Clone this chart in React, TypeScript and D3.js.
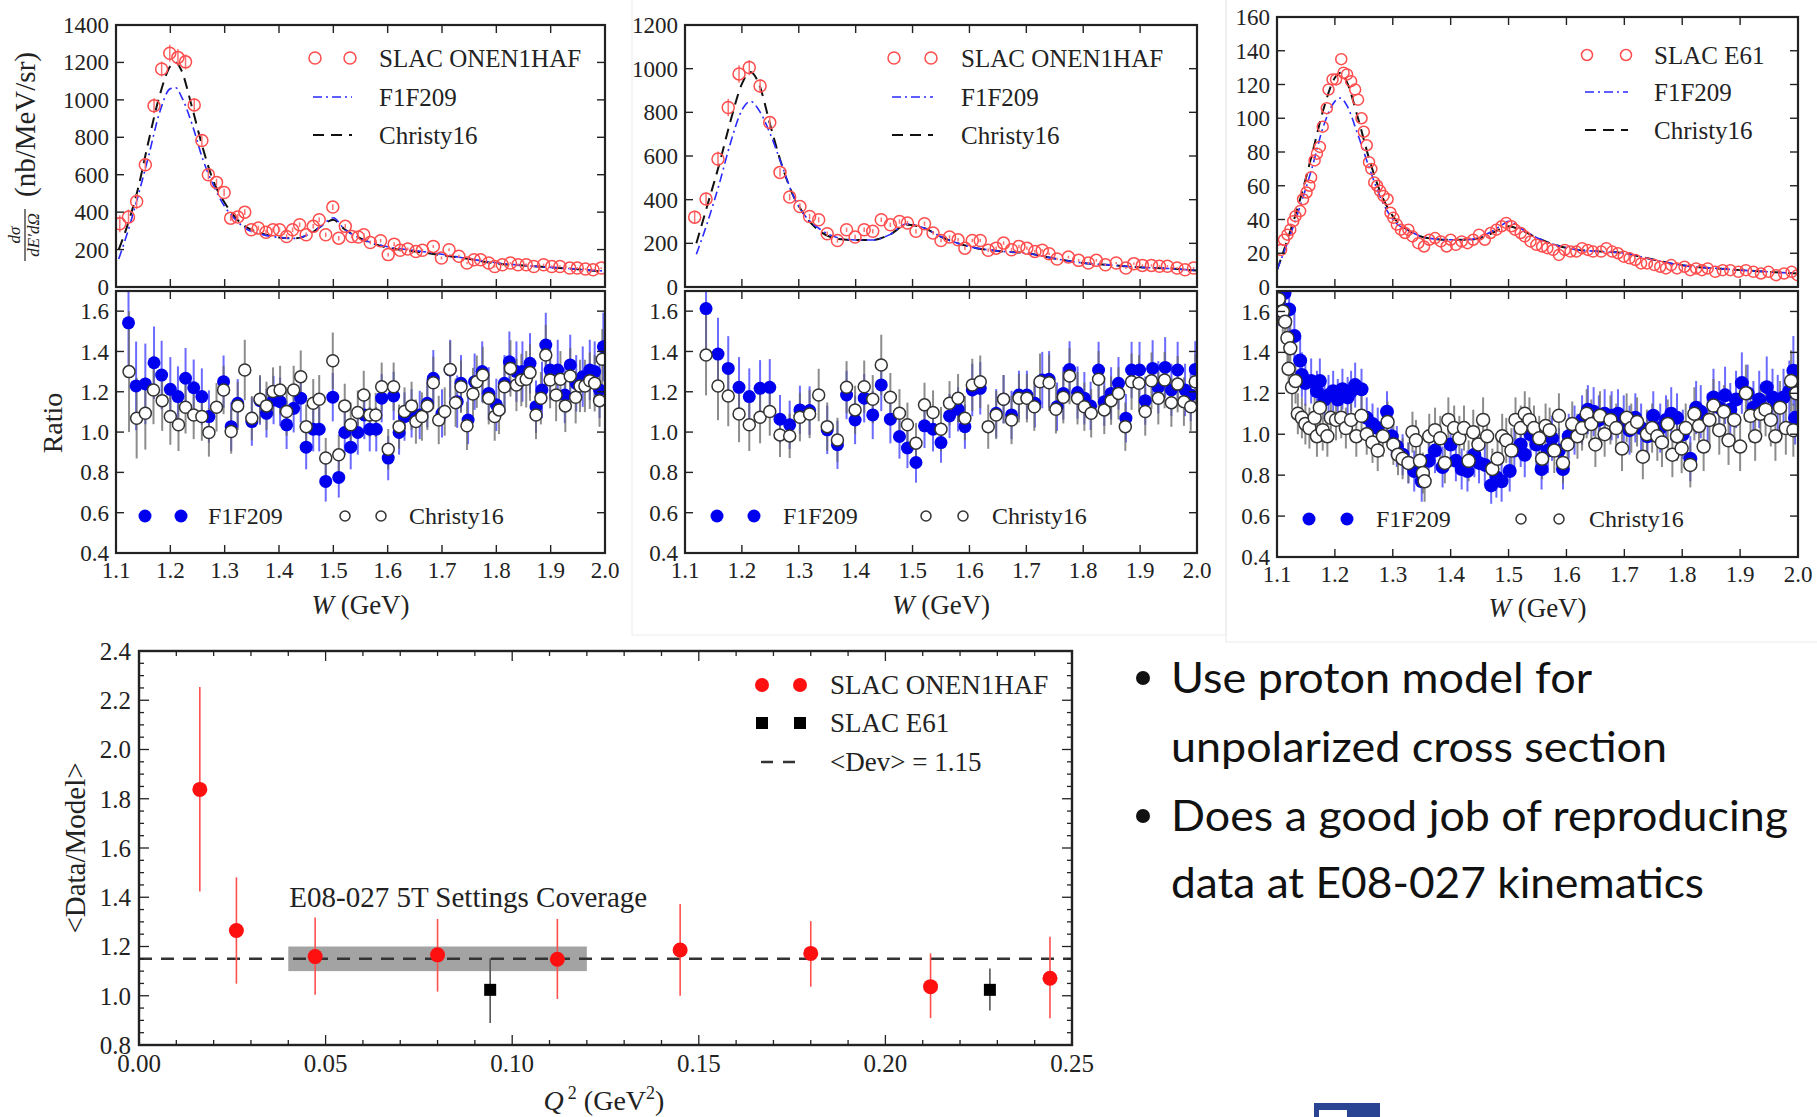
import React from "react";
import * as d3 from "d3";

const SERIF = "'Liberation Serif', 'Times New Roman', serif";
const SANS = "Lato, 'Open Sans', sans-serif";

// ---------------- Panel A : SLAC ONEN1HAF (first kinematics) ----------------
const A_DATA = [
  [1.107,338,45],[1.123,374,40],[1.138,457,40],[1.154,653,35],[1.170,968,40],[1.184,1165,40],[1.199,1249,45],[1.214,1227,45],[1.228,1203,40],[1.244,973,35],[1.258,783,30],[1.270,600,25],[1.285,559,20],[1.299,505,20],[1.311,368,15],[1.324,374,15],[1.337,400,15],[1.349,306,12],[1.362,315,12],[1.376,293,12],[1.389,306,12],[1.401,306,12],[1.414,270,12],[1.425,306,12],[1.438,333,12],[1.450,279,12],[1.463,324,12],[1.474,359,12],[1.486,279,12],[1.499,427,15],[1.510,261,12],[1.522,324,12],[1.534,270,10],[1.546,267,10],[1.556,279,10],[1.568,238,10],[1.587,247,10],[1.601,173,10],[1.612,229,10],[1.623,196,8],[1.637,203,8],[1.652,190,8],[1.664,196,8],[1.684,217,8],[1.699,155,8],[1.713,199,8],[1.731,164,8],[1.746,128,6],[1.759,146,6],[1.771,146,6],[1.786,128,6],[1.797,110,6],[1.811,119,6],[1.826,128,6],[1.840,119,6],[1.855,119,6],[1.869,110,6],[1.887,119,6],[1.902,110,6],[1.917,110,6],[1.935,101,5],[1.949,101,5],[1.964,96,5],[1.978,92,5],[1.993,101,5]
];
const A_MODEL_W = [1.105,1.12,1.14,1.16,1.18,1.20,1.21,1.22,1.24,1.26,1.28,1.30,1.32,1.34,1.37,1.40,1.43,1.46,1.48,1.50,1.52,1.55,1.60,1.65,1.70,1.75,1.80,1.85,1.90,1.95,2.0];
const A_CHRISTY = [200,320,520,780,1020,1180,1200,1160,960,740,560,450,370,320,285,265,260,290,330,360,310,260,210,190,170,150,125,115,105,95,80];
const A_F1F209 = [150,280,480,700,930,1060,1065,1020,870,680,540,430,360,310,280,265,260,290,330,370,310,260,215,195,175,150,130,115,105,95,85];
const A_RATIO_F1F209 = [
  [1.123,1.542,0.25],[1.137,1.229,0.22],[1.154,1.239,0.2],[1.170,1.344,0.18],[1.184,1.283,0.17],[1.200,1.212,0.16],[1.214,1.176,0.15],[1.228,1.267,0.15],[1.243,1.220,0.14],[1.258,1.176,0.14],[1.271,1.077,0.13],[1.298,1.250,0.13],[1.312,1.027,0.12],[1.324,1.143,0.12],[1.350,1.052,0.12],[1.365,1.156,0.12],[1.377,1.093,0.12],[1.390,1.159,0.12],[1.402,1.151,0.12],[1.414,1.036,0.12],[1.427,1.118,0.12],[1.440,1.168,0.12],[1.450,0.925,0.11],[1.463,1.014,0.11],[1.474,1.014,0.11],[1.486,0.755,0.1],[1.499,1.173,0.12],[1.510,0.775,0.1],[1.521,0.998,0.11],[1.532,0.925,0.11],[1.545,0.998,0.11],[1.557,1.085,0.12],[1.567,1.014,0.11],[1.579,1.014,0.11],[1.589,1.168,0.12],[1.601,0.871,0.11],[1.611,1.179,0.12],[1.621,0.998,0.11],[1.631,1.077,0.12],[1.644,1.093,0.12],[1.659,1.085,0.12],[1.673,1.143,0.12],[1.684,1.267,0.14],[1.700,1.093,0.12],[1.715,1.308,0.15],[1.728,1.151,0.13],[1.735,1.242,0.14],[1.748,1.060,0.12],[1.760,1.250,0.14],[1.774,1.300,0.15],[1.786,1.192,0.13],[1.800,1.135,0.13],[1.815,1.242,0.14],[1.824,1.349,0.15],[1.837,1.300,0.15],[1.848,1.300,0.15],[1.862,1.341,0.15],[1.873,1.126,0.13],[1.884,1.209,0.14],[1.891,1.432,0.16],[1.899,1.308,0.15],[1.913,1.308,0.15],[1.926,1.184,0.14],[1.936,1.333,0.15],[1.947,1.242,0.14],[1.959,1.275,0.15],[1.972,1.308,0.15],[1.981,1.300,0.15],[1.990,1.209,0.14],[1.997,1.423,0.17]
];
const A_RATIO_CHRISTY = [
  [1.124,1.300,0.3],[1.138,1.069,0.2],[1.154,1.093,0.18],[1.169,1.209,0.17],[1.185,1.156,0.15],[1.200,1.077,0.14],[1.215,1.036,0.13],[1.228,1.123,0.13],[1.243,1.085,0.12],[1.258,1.077,0.12],[1.271,0.998,0.12],[1.285,1.123,0.12],[1.298,1.209,0.12],[1.312,1.003,0.11],[1.324,1.130,0.12],[1.337,1.308,0.15],[1.350,1.069,0.11],[1.365,1.163,0.12],[1.377,1.130,0.12],[1.389,1.201,0.12],[1.402,1.209,0.12],[1.414,1.102,0.12],[1.427,1.209,0.12],[1.440,1.275,0.13],[1.450,1.027,0.11],[1.463,1.143,0.12],[1.474,1.163,0.12],[1.486,0.871,0.1],[1.499,1.354,0.14],[1.510,0.887,0.1],[1.521,1.130,0.11],[1.532,1.036,0.11],[1.545,1.097,0.11],[1.556,1.184,0.12],[1.567,1.085,0.11],[1.578,1.085,0.11],[1.589,1.225,0.12],[1.601,0.915,0.1],[1.611,1.225,0.12],[1.621,1.027,0.11],[1.631,1.102,0.12],[1.644,1.130,0.12],[1.652,1.052,0.11],[1.663,1.077,0.12],[1.673,1.130,0.12],[1.684,1.245,0.13],[1.694,1.060,0.12],[1.705,1.102,0.12],[1.715,1.311,0.14],[1.725,1.146,0.12],[1.735,1.225,0.13],[1.746,1.031,0.12],[1.757,1.189,0.13],[1.764,1.250,0.13],[1.775,1.283,0.14],[1.786,1.168,0.13],[1.797,1.077,0.12],[1.805,1.110,0.12],[1.815,1.225,0.13],[1.826,1.316,0.14],[1.837,1.234,0.13],[1.846,1.258,0.13],[1.855,1.262,0.14],[1.862,1.295,0.14],[1.873,1.085,0.12],[1.882,1.168,0.13],[1.891,1.382,0.15],[1.899,1.258,0.14],[1.910,1.184,0.13],[1.918,1.262,0.14],[1.927,1.130,0.13],[1.936,1.278,0.14],[1.946,1.173,0.13],[1.954,1.229,0.13],[1.963,1.229,0.13],[1.972,1.255,0.14],[1.981,1.242,0.14],[1.990,1.156,0.13],[1.995,1.361,0.15]
];

// ---------------- Panel B : SLAC ONEN1HAF (second kinematics) ----------------
const B_DATA = [
  [1.117,320,30],[1.137,403,30],[1.158,586,35],[1.176,822,40],[1.195,976,40],[1.213,1005,35],[1.232,921,30],[1.249,753,25],[1.267,525,20],[1.284,412,15],[1.302,369,15],[1.319,323,12],[1.335,308,12],[1.350,244,10],[1.368,213,10],[1.384,262,10],[1.399,229,10],[1.415,262,10],[1.430,255,10],[1.445,308,10],[1.461,285,10],[1.477,300,10],[1.491,293,10],[1.506,255,10],[1.521,290,10],[1.536,247,8],[1.550,213,8],[1.565,229,8],[1.580,216,8],[1.592,178,8],[1.605,213,8],[1.619,213,8],[1.633,168,8],[1.647,178,8],[1.660,201,8],[1.674,171,8],[1.687,186,8],[1.701,178,8],[1.715,163,6],[1.728,168,6],[1.740,152,6],[1.754,128,6],[1.774,137,6],[1.792,122,6],[1.809,110,6],[1.823,122,6],[1.839,102,5],[1.858,110,5],[1.875,87,5],[1.889,107,5],[1.904,99,5],[1.920,99,5],[1.934,95,5],[1.948,95,5],[1.965,87,5],[1.979,79,5],[1.994,87,5]
];
const B_MODEL_W = [1.12,1.14,1.16,1.18,1.20,1.215,1.23,1.25,1.27,1.29,1.31,1.34,1.37,1.40,1.43,1.46,1.49,1.52,1.55,1.60,1.65,1.70,1.75,1.80,1.85,1.90,1.95,2.0];
const B_CHRISTY = [200,380,560,760,930,985,930,740,560,420,330,250,220,215,215,240,285,270,230,185,165,155,130,110,100,90,85,75];
const B_F1F209 = [150,300,470,660,810,850,810,700,560,420,330,260,225,215,215,240,290,270,230,185,165,155,130,110,100,90,85,75];
const B_RATIO_F1F209 = [
  [1.137,1.613,0.2],[1.158,1.387,0.18],[1.176,1.316,0.16],[1.195,1.222,0.15],[1.213,1.176,0.14],[1.232,1.217,0.14],[1.249,1.222,0.14],[1.267,1.064,0.12],[1.284,1.036,0.12],[1.302,1.110,0.12],[1.319,1.107,0.12],[1.350,1.011,0.12],[1.368,0.937,0.12],[1.384,1.184,0.12],[1.399,1.060,0.12],[1.415,1.168,0.12],[1.430,1.085,0.12],[1.445,1.234,0.13],[1.461,1.064,0.12],[1.477,0.978,0.11],[1.491,0.921,0.1],[1.506,0.849,0.1],[1.521,1.031,0.11],[1.536,1.014,0.11],[1.550,0.948,0.1],[1.565,1.080,0.11],[1.580,1.113,0.11],[1.592,1.027,0.11],[1.605,1.209,0.13],[1.619,1.217,0.13],[1.647,1.093,0.12],[1.660,1.163,0.12],[1.674,1.085,0.12],[1.687,1.184,0.12],[1.701,1.184,0.12],[1.715,1.143,0.12],[1.728,1.258,0.14],[1.740,1.262,0.14],[1.754,1.126,0.12],[1.765,1.192,0.13],[1.776,1.311,0.14],[1.790,1.196,0.13],[1.802,1.168,0.13],[1.813,1.130,0.12],[1.827,1.308,0.14],[1.837,1.151,0.12],[1.849,1.192,0.13],[1.862,1.242,0.13],[1.875,1.069,0.12],[1.885,1.308,0.14],[1.899,1.308,0.14],[1.909,1.156,0.12],[1.922,1.316,0.14],[1.932,1.222,0.13],[1.944,1.321,0.15],[1.955,1.209,0.13],[1.966,1.308,0.14],[1.979,1.209,0.13],[1.989,1.184,0.13],[1.997,1.311,0.14]
];
const B_RATIO_CHRISTY = [
  [1.137,1.382,0.2],[1.158,1.229,0.17],[1.176,1.179,0.15],[1.195,1.090,0.14],[1.213,1.036,0.13],[1.232,1.074,0.13],[1.249,1.102,0.12],[1.267,0.986,0.11],[1.284,0.981,0.11],[1.302,1.074,0.12],[1.319,1.090,0.12],[1.335,1.184,0.13],[1.350,1.027,0.12],[1.368,0.961,0.11],[1.384,1.222,0.13],[1.399,1.110,0.12],[1.415,1.225,0.13],[1.430,1.163,0.12],[1.445,1.333,0.15],[1.461,1.173,0.12],[1.477,1.093,0.12],[1.491,1.036,0.11],[1.506,0.945,0.1],[1.521,1.135,0.11],[1.536,1.097,0.11],[1.550,1.014,0.11],[1.565,1.143,0.11],[1.580,1.168,0.12],[1.592,1.069,0.11],[1.605,1.234,0.13],[1.619,1.250,0.13],[1.633,1.027,0.11],[1.647,1.085,0.12],[1.660,1.163,0.12],[1.674,1.060,0.12],[1.687,1.168,0.12],[1.701,1.168,0.12],[1.714,1.126,0.12],[1.724,1.250,0.14],[1.740,1.245,0.14],[1.752,1.113,0.12],[1.765,1.173,0.13],[1.776,1.278,0.14],[1.790,1.168,0.13],[1.802,1.126,0.12],[1.814,1.093,0.12],[1.827,1.262,0.14],[1.837,1.110,0.12],[1.849,1.156,0.12],[1.862,1.192,0.13],[1.874,1.027,0.12],[1.885,1.250,0.14],[1.898,1.242,0.14],[1.909,1.102,0.12],[1.920,1.255,0.14],[1.932,1.168,0.13],[1.943,1.258,0.14],[1.955,1.146,0.12],[1.966,1.238,0.14],[1.977,1.151,0.12],[1.989,1.126,0.12],[1.997,1.250,0.14]
];

// ---------------- Panel C : SLAC E61 ----------------
const C_DATA = [
  [1.107,22,0],[1.112,28,0],[1.118,31,0],[1.123,34,0],[1.128,39,0],[1.132,42,0],[1.140,45,0],[1.145,52,0],[1.151,56,0],[1.156,60,0],[1.159,65,0],[1.165,75,0],[1.169,79,0],[1.174,83,0],[1.179,95,0],[1.186,106,0],[1.189,117,0],[1.196,123,0],[1.202,123,0],[1.211,135,0],[1.215,127,0],[1.221,126,0],[1.228,122,0],[1.235,117,0],[1.240,111,0],[1.246,100,0],[1.250,92,0],[1.255,84,0],[1.259,74,0],[1.263,70,0],[1.268,62,0],[1.273,60,0],[1.278,57,0],[1.284,54,0],[1.291,52,0],[1.296,44,0],[1.301,41,0],[1.307,37,0],[1.314,34,0],[1.321,32,0],[1.327,34,0],[1.334,30,0],[1.344,26,0],[1.354,24,0],[1.363,28,0],[1.373,29,0],[1.383,27,0],[1.393,24,0],[1.400,28,0],[1.409,25,0],[1.419,27,0],[1.429,26,0],[1.439,28,0],[1.449,31,0],[1.459,28,0],[1.469,32,0],[1.479,34,0],[1.488,36,0],[1.496,38,0],[1.505,36,0],[1.511,34,0],[1.521,32,0],[1.528,30,0],[1.538,27,0],[1.548,25,0],[1.558,24,0],[1.567,23,0],[1.577,22,0],[1.587,19,0],[1.597,22,0],[1.607,21,0],[1.617,21,0],[1.627,23,0],[1.637,22,0],[1.646,21,0],[1.660,21,0],[1.669,23,0],[1.679,21,0],[1.689,20,0],[1.699,18,0],[1.709,17,0],[1.719,16,0],[1.729,14,0],[1.739,14,0],[1.752,13,0],[1.762,12,0],[1.772,11,0],[1.781,13,0],[1.791,11,0],[1.804,12,0],[1.814,10,0],[1.824,11,0],[1.834,10,0],[1.844,11,0],[1.857,9,0],[1.870,10,0],[1.883,10,0],[1.897,9,0],[1.910,10,0],[1.923,9,0],[1.936,8,0],[1.949,9,0],[1.962,7,0],[1.976,8,0],[1.989,9,0],[1.999,7,0]
];
const C_MODEL_W = [1.10,1.12,1.14,1.16,1.18,1.20,1.21,1.22,1.24,1.26,1.28,1.30,1.33,1.36,1.40,1.43,1.46,1.49,1.50,1.52,1.55,1.58,1.62,1.66,1.70,1.74,1.78,1.82,1.86,1.90,1.95,2.0];
const C_CHRISTY = [10,30,52,78,105,124,127,122,100,75,55,42,33,29,28,28,30,35,36,34,29,25,22,21,20,17,14,12,11,10,9,8];
const C_F1F209 = [10,28,48,70,95,110,112,108,90,70,52,40,33,29,28,28,31,37,39,35,29,25,22,21,20,17,14,12,11,10,9,8];
const C_RATIO_F1F209 = [
  [1.103,1.65,0.12],[1.113,1.69,0.12],[1.121,1.61,0.12],[1.130,1.48,0.12],[1.140,1.36,0.12],[1.143,1.29,0.11],[1.149,1.25,0.11],[1.159,1.26,0.11],[1.169,1.21,0.1],[1.174,1.26,0.11],[1.182,1.17,0.1],[1.189,1.19,0.1],[1.197,1.21,0.1],[1.205,1.17,0.1],[1.213,1.22,0.1],[1.222,1.18,0.1],[1.228,1.21,0.1],[1.235,1.24,0.11],[1.246,1.22,0.1],[1.255,1.08,0.1],[1.265,1.05,0.1],[1.274,1.03,0.1],[1.290,1.11,0.1],[1.298,0.99,0.1],[1.307,0.94,0.1],[1.317,0.90,0.1],[1.327,0.86,0.1],[1.337,0.82,0.1],[1.350,0.77,0.1],[1.362,0.87,0.1],[1.373,0.92,0.11],[1.386,0.84,0.1],[1.400,0.95,0.11],[1.409,0.87,0.1],[1.419,0.83,0.1],[1.429,0.82,0.1],[1.441,0.90,0.11],[1.449,0.86,0.1],[1.459,0.85,0.1],[1.470,0.75,0.09],[1.479,0.79,0.1],[1.488,0.77,0.1],[1.502,0.82,0.1],[1.510,0.92,0.11],[1.521,0.95,0.11],[1.528,0.90,0.11],[1.538,1.00,0.11],[1.548,0.95,0.11],[1.557,0.83,0.1],[1.568,0.92,0.11],[1.575,0.98,0.11],[1.587,0.92,0.11],[1.594,0.83,0.1],[1.604,0.99,0.11],[1.614,1.02,0.12],[1.627,1.07,0.12],[1.637,1.12,0.12],[1.647,1.11,0.12],[1.656,1.07,0.12],[1.666,1.10,0.12],[1.678,1.09,0.12],[1.689,1.10,0.12],[1.699,1.07,0.12],[1.709,1.02,0.12],[1.719,1.08,0.12],[1.729,1.03,0.12],[1.740,0.99,0.12],[1.750,1.09,0.12],[1.762,1.03,0.12],[1.772,1.07,0.12],[1.781,1.10,0.13],[1.791,1.08,0.12],[1.801,1.00,0.12],[1.814,0.88,0.11],[1.824,1.13,0.13],[1.832,1.11,0.13],[1.844,1.07,0.13],[1.854,1.18,0.14],[1.864,1.13,0.13],[1.874,1.19,0.14],[1.883,1.12,0.13],[1.893,1.17,0.14],[1.903,1.25,0.15],[1.913,1.20,0.14],[1.923,1.13,0.13],[1.933,1.17,0.14],[1.946,1.23,0.15],[1.956,1.18,0.14],[1.965,1.15,0.14],[1.975,1.18,0.14],[1.985,1.21,0.15],[1.992,1.31,0.17],[1.995,1.08,0.13]
];
const C_RATIO_CHRISTY = [
  [1.103,1.66,0.12],[1.110,1.60,0.12],[1.114,1.55,0.12],[1.118,1.47,0.12],[1.123,1.42,0.12],[1.120,1.32,0.12],[1.126,1.23,0.11],[1.132,1.26,0.11],[1.136,1.10,0.1],[1.143,1.08,0.1],[1.149,1.05,0.1],[1.156,1.03,0.1],[1.165,1.08,0.1],[1.169,0.99,0.1],[1.174,1.13,0.1],[1.179,1.02,0.1],[1.187,0.99,0.1],[1.193,1.08,0.1],[1.202,1.07,0.1],[1.211,1.08,0.1],[1.219,1.03,0.1],[1.228,1.07,0.1],[1.237,0.99,0.1],[1.246,1.09,0.1],[1.255,1.00,0.1],[1.265,0.96,0.1],[1.274,0.92,0.1],[1.283,0.99,0.1],[1.291,1.06,0.1],[1.301,0.95,0.1],[1.309,0.90,0.1],[1.317,0.88,0.1],[1.327,0.86,0.1],[1.334,1.01,0.1],[1.340,0.97,0.1],[1.347,0.87,0.1],[1.352,0.81,0.1],[1.355,0.77,0.1],[1.363,0.99,0.11],[1.373,1.02,0.11],[1.382,0.98,0.11],[1.390,0.86,0.1],[1.396,1.07,0.11],[1.406,1.03,0.11],[1.415,0.98,0.11],[1.423,1.03,0.11],[1.431,0.87,0.1],[1.439,1.01,0.11],[1.448,0.95,0.11],[1.456,1.07,0.11],[1.463,0.99,0.11],[1.472,0.83,0.1],[1.481,0.88,0.1],[1.489,0.99,0.11],[1.496,0.97,0.11],[1.505,0.92,0.11],[1.512,1.07,0.11],[1.521,1.03,0.11],[1.528,1.10,0.11],[1.536,1.07,0.11],[1.544,1.03,0.11],[1.553,0.98,0.11],[1.558,0.88,0.1],[1.564,1.04,0.11],[1.571,1.02,0.11],[1.579,0.92,0.11],[1.587,1.09,0.11],[1.594,0.86,0.1],[1.602,0.95,0.11],[1.610,1.05,0.11],[1.619,0.99,0.11],[1.627,1.03,0.11],[1.635,1.10,0.12],[1.643,1.05,0.12],[1.650,0.95,0.11],[1.658,1.09,0.12],[1.666,1.00,0.11],[1.676,1.07,0.12],[1.686,1.03,0.12],[1.696,0.93,0.11],[1.704,1.08,0.12],[1.712,1.03,0.12],[1.722,1.06,0.12],[1.732,0.89,0.11],[1.739,1.00,0.12],[1.748,1.03,0.12],[1.757,0.99,0.12],[1.765,0.96,0.12],[1.775,1.05,0.12],[1.783,0.90,0.11],[1.791,0.99,0.12],[1.799,0.93,0.12],[1.806,1.03,0.12],[1.814,0.85,0.11],[1.821,1.10,0.13],[1.829,1.04,0.12],[1.837,0.94,0.12],[1.847,1.07,0.13],[1.854,1.14,0.13],[1.864,1.02,0.12],[1.872,1.11,0.13],[1.880,0.97,0.12],[1.890,1.07,0.13],[1.900,0.94,0.12],[1.910,1.20,0.14],[1.918,1.09,0.13],[1.926,0.99,0.12],[1.935,1.10,0.13],[1.944,1.12,0.13],[1.953,1.07,0.13],[1.961,0.99,0.12],[1.969,1.13,0.13],[1.979,1.03,0.13],[1.988,1.26,0.15],[1.992,1.02,0.13],[1.997,1.20,0.14]
];

// ---------------- Bottom: <Data/Model> vs Q^2 ----------------
// [Q2, value, low, high]
const Q2_ONEN1HAF = [
  [0.0163,1.838,1.423,2.254],[0.0261,1.265,1.049,1.481],[0.0472,1.159,1.004,1.318],[0.0800,1.166,1.017,1.312],[0.1121,1.148,0.987,1.312],[0.1450,1.186,1.0,1.373],[0.1800,1.172,1.037,1.303],[0.2121,1.037,0.909,1.172],[0.2441,1.071,0.909,1.24]
];
const Q2_E61 = [[0.0941,1.024,0.889,1.152],[0.2280,1.024,0.94,1.111]];
const DEV_MEAN = 1.15;
const COVERAGE_Q2 = [0.04, 0.12];
const COVERAGE_R = [1.10, 1.20];

// ---------------- ticks / labels ----------------
const W_TICKS = [1.1,1.2,1.3,1.4,1.5,1.6,1.7,1.8,1.9,2.0];
const RATIO_TICKS = [0.4,0.6,0.8,1.0,1.2,1.4,1.6];
const A_Y_TICKS = [0,200,400,600,800,1000,1200,1400];
const B_Y_TICKS = [0,200,400,600,800,1000,1200];
const C_Y_TICKS = [0,20,40,60,80,100,120,140,160];
const Q2_TICKS = [0,0.05,0.10,0.15,0.20,0.25];
const DM_TICKS = [0.8,1.0,1.2,1.4,1.6,1.8,2.0,2.2,2.4];
const BULLETS = [
  ["Use proton model for", "unpolarized cross section"],
  ["Does a good job of reproducing", "data at E08-027 kinematics"],
];

const RED = "#ff4d4d";
const BLUE = "#0000ee";
const TICK = 8;

type Layout = {
  id: string; xl: number; xr: number; top: number; zero: number; yMax: number;
  r04: number; r17: number; tickY: number; titleY: number;
  legCirc: number[]; legText: number; legRows: number[];
  rLegF: number[]; rLegFText: number; rLegC: number[]; rLegCText: number; rLegY: number;
  rData: number; rRatio: number; clipLeft?: number;
};

function Frame({ x0, x1, y0, y1, xt, yt, xs, ys }: any) {
  return (
    <g stroke="#222" strokeWidth={1.4}>
      {xt.map((t: number, i: number) => (
        <g key={"x" + i}>
          <line x1={xs(t)} x2={xs(t)} y1={y1} y2={y1 - TICK} />
          <line x1={xs(t)} x2={xs(t)} y1={y0} y2={y0 + TICK} />
        </g>
      ))}
      {yt.map((t: number, i: number) => (
        <g key={"y" + i}>
          <line x1={x0} x2={x0 + TICK} y1={ys(t)} y2={ys(t)} />
          <line x1={x1} x2={x1 - TICK} y1={ys(t)} y2={ys(t)} />
        </g>
      ))}
      <rect x={x0} y={y0} width={x1 - x0} height={y1 - y0} fill="none" strokeWidth={2.2} />
    </g>
  );
}

function Panel({ L, data, modelW, christy, f1, rF, rC, yTicks, dataLabel, showYTitles }: any) {
  const x = d3.scaleLinear().domain([1.1, 2.0]).range([L.xl, L.xr]);
  const yT = d3.scaleLinear().domain([0, L.yMax]).range([L.zero, L.top]);
  const yR = d3.scaleLinear().domain([0.4, 1.7]).range([L.r04, L.r17]);
  const line = (vals: number[]) =>
    d3.line<number>().x((_, i) => x(modelW[i])).y((d) => yT(d)).curve(d3.curveMonotoneX)(vals) || "";
  const rTop = L.zero + 4;
  const clipT = L.id + "t", clipR = L.id + "r", clipL = L.id + "l";
  const cx = (L.xl + L.xr) / 2;
  return (
    <g fontFamily={SERIF} fill="#222">
      <defs>
        <clipPath id={clipT}><rect x={L.xl} y={L.top} width={L.xr - L.xl} height={L.zero - L.top} /></clipPath>
        <clipPath id={clipR}><rect x={L.xl} y={rTop} width={L.xr - L.xl} height={L.r04 - rTop} /></clipPath>
        <clipPath id={clipL}><rect x={L.clipLeft ?? 0} y={0} width={2000} height={2000} /></clipPath>
      </defs>
      {/* ---------- top: cross sections ---------- */}
      <g clipPath={`url(#${clipT})`}>
        <path d={line(christy)} fill="none" stroke="#111" strokeWidth={2} strokeDasharray="11 7" />
        <path d={line(f1)} fill="none" stroke="#2a2aff" strokeWidth={1.6} strokeDasharray="9 4 2 4" />
        {data.map((d: number[], i: number) => (
          <g key={i}>
            {d[2] > 0 && <line x1={x(d[0])} x2={x(d[0])} y1={yT(d[1] - d[2])} y2={yT(d[1] + d[2])} stroke="#ff7070" strokeWidth={1.5} />}
            <circle cx={x(d[0])} cy={yT(d[1])} r={L.rData} fill="none" stroke={RED} strokeWidth={1.5} />
          </g>
        ))}
      </g>
      <Frame x0={L.xl} x1={L.xr} y0={L.top} y1={L.zero} xt={W_TICKS} yt={yTicks} xs={x} ys={yT} />
      <g clipPath={`url(#${clipL})`} fontSize={23} textAnchor="end">
        {yTicks.map((t: number) => (
          <text key={t} x={L.xl - 7} y={yT(t)} dy="0.35em">{t}</text>
        ))}
      </g>
      {/* legend top */}
      <g fontSize={25}>
        {L.legCirc.map((c: number, i: number) => (
          <circle key={i} cx={c} cy={L.legRows[0]} r={L.rData} fill="none" stroke={RED} strokeWidth={1.5} />
        ))}
        <text x={L.legText} y={L.legRows[0]} dy="0.35em">{dataLabel}</text>
        <line x1={L.legCirc[0] - 2} x2={L.legCirc[1] + 2} y1={L.legRows[1]} y2={L.legRows[1]} stroke="#2a2aff" strokeWidth={1.6} strokeDasharray="9 4 2 4" />
        <text x={L.legText} y={L.legRows[1]} dy="0.35em">F1F209</text>
        <line x1={L.legCirc[0] - 2} x2={L.legCirc[1] + 2} y1={L.legRows[2]} y2={L.legRows[2]} stroke="#111" strokeWidth={2} strokeDasharray="11 7" />
        <text x={L.legText} y={L.legRows[2]} dy="0.35em">Christy16</text>
      </g>
      {/* ---------- ratio ---------- */}
      <g clipPath={`url(#${clipR})`}>
        {rF.map((d: number[], i: number) => (
          <line key={"fe" + i} x1={x(d[0])} x2={x(d[0])} y1={yR(d[1] - d[2])} y2={yR(d[1] + d[2])} stroke="#3a3aff" strokeOpacity={0.75} strokeWidth={2} />
        ))}
        {rC.map((d: number[], i: number) => (
          <line key={"ce" + i} x1={x(d[0])} x2={x(d[0])} y1={yR(d[1] - d[2])} y2={yR(d[1] + d[2])} stroke="#666" strokeOpacity={0.75} strokeWidth={2} />
        ))}
        {rF.map((d: number[], i: number) => (
          <circle key={"f" + i} cx={x(d[0])} cy={yR(d[1])} r={L.rRatio + 0.5} fill={BLUE} />
        ))}
        {rC.map((d: number[], i: number) => (
          <circle key={"c" + i} cx={x(d[0])} cy={yR(d[1])} r={L.rRatio} fill="#fff" stroke="#333" strokeWidth={1.5} />
        ))}
      </g>
      <Frame x0={L.xl} x1={L.xr} y0={rTop} y1={L.r04} xt={W_TICKS} yt={RATIO_TICKS} xs={x} ys={yR} />
      <g fontSize={23} textAnchor="end">
        {RATIO_TICKS.map((t) => (
          <text key={t} x={L.xl - 7} y={yR(t)} dy="0.35em">{t.toFixed(1)}</text>
        ))}
      </g>
      <g fontSize={23} textAnchor="middle">
        {W_TICKS.map((t) => (
          <text key={t} x={x(t)} y={L.tickY} dy="0.35em">{t.toFixed(1)}</text>
        ))}
      </g>
      <text x={cx} y={L.titleY} fontSize={27} textAnchor="middle">
        <tspan fontStyle="italic">W</tspan> (GeV)
      </text>
      {/* ratio legend */}
      <g fontSize={24}>
        {L.rLegF.map((c: number, i: number) => (
          <circle key={i} cx={c} cy={L.rLegY} r={6.5} fill={BLUE} />
        ))}
        <text x={L.rLegFText} y={L.rLegY} dy="0.35em">F1F209</text>
        {L.rLegC.map((c: number, i: number) => (
          <circle key={i} cx={c} cy={L.rLegY} r={5} fill="#fff" stroke="#333" strokeWidth={1.5} />
        ))}
        <text x={L.rLegCText} y={L.rLegY} dy="0.35em">Christy16</text>
      </g>
      {showYTitles && (
        <g>
          <g transform="translate(35,197) rotate(-90)">
            <text x={0} y={0} fontSize={29}>(nb/MeV/sr)</text>
            <text x={-38} y={-15} fontSize={17} fontStyle="italic" textAnchor="middle">dσ</text>
            <line x1={-64} x2={-12} y1={-10} y2={-10} stroke="#222" strokeWidth={1.2} />
            <text x={-38} y={4} fontSize={17} fontStyle="italic" textAnchor="middle">dE′dΩ</text>
          </g>
          <text transform="translate(62,423) rotate(-90)" fontSize={28} textAnchor="middle">Ratio</text>
        </g>
      )}
    </g>
  );
}

const LA: Layout = {
  id: "pa", xl: 116, xr: 605, top: 25, zero: 287, yMax: 1400, r04: 553, r17: 291, tickY: 570, titleY: 614,
  legCirc: [315, 350], legText: 379, legRows: [58, 97, 135],
  rLegF: [145, 181], rLegFText: 208, rLegC: [345, 381], rLegCText: 409, rLegY: 516, rData: 6, rRatio: 6,
};
const LB: Layout = {
  id: "pb", xl: 685, xr: 1197, top: 25, zero: 287, yMax: 1200, r04: 553, r17: 291, tickY: 570, titleY: 614,
  legCirc: [894, 931], legText: 961, legRows: [58, 97, 135],
  rLegF: [717, 754], rLegFText: 783, rLegC: [926, 963], rLegCText: 992, rLegY: 516, rData: 6, rRatio: 6, clipLeft: 632,
};
const LC: Layout = {
  id: "pc", xl: 1277, xr: 1798, top: 17, zero: 287, yMax: 160, r04: 557, r17: 291, tickY: 574, titleY: 617,
  legCirc: [1587, 1626], legText: 1654, legRows: [55, 92, 130],
  rLegF: [1309, 1347], rLegFText: 1376, rLegC: [1521, 1559], rLegCText: 1589, rLegY: 519, rData: 5.5, rRatio: 6.5,
};

function Summary() {
  const xl = 139, xr = 1072, yt = 651, yb = 1045;
  const x = d3.scaleLinear().domain([0, 0.25]).range([xl, xr]);
  const y = d3.scaleLinear().domain([0.8, 2.4]).range([yb, yt]);
  const minorX = d3.range(0, 0.2501, 0.01);
  const minorY = d3.range(0.8, 2.4001, 0.05);
  return (
    <g fontFamily={SERIF} fill="#222">
      <rect x={x(COVERAGE_Q2[0])} width={x(COVERAGE_Q2[1]) - x(COVERAGE_Q2[0])} y={y(COVERAGE_R[1])} height={y(COVERAGE_R[0]) - y(COVERAGE_R[1])} fill="#a3a3a3" />
      <line x1={xl} x2={xr} y1={y(DEV_MEAN)} y2={y(DEV_MEAN)} stroke="#333" strokeWidth={2.4} strokeDasharray="13 9" />
      {Q2_ONEN1HAF.map((d, i) => (
        <g key={i}>
          <line x1={x(d[0])} x2={x(d[0])} y1={y(d[2])} y2={y(d[3])} stroke="#ff5050" strokeWidth={1.6} />
          <circle cx={x(d[0])} cy={y(d[1])} r={7.5} fill="#ff1010" />
        </g>
      ))}
      {Q2_E61.map((d, i) => (
        <g key={i}>
          <line x1={x(d[0])} x2={x(d[0])} y1={y(d[2])} y2={y(d[3])} stroke="#555" strokeWidth={1.6} />
          <rect x={x(d[0]) - 6} y={y(d[1]) - 6} width={12} height={12} fill="#000" />
        </g>
      ))}
      <text x={x(COVERAGE_Q2[0]) + 1} y={y(1.36)} fontSize={29}>E08-027 5T Settings Coverage</text>
      <g stroke="#222" strokeWidth={1.3}>
        {minorX.map((t, i) => {
          const len = i % 5 === 0 ? 10 : 5;
          return (
            <g key={"mx" + i}>
              <line x1={x(t)} x2={x(t)} y1={yb} y2={yb - len} />
              <line x1={x(t)} x2={x(t)} y1={yt} y2={yt + len} />
            </g>
          );
        })}
        {minorY.map((t, i) => {
          const len = i % 4 === 0 ? 10 : 5;
          return (
            <g key={"my" + i}>
              <line x1={xl} x2={xl + len} y1={y(t)} y2={y(t)} />
              <line x1={xr} x2={xr - len} y1={y(t)} y2={y(t)} />
            </g>
          );
        })}
        <rect x={xl} y={yt} width={xr - xl} height={yb - yt} fill="none" strokeWidth={2.4} />
      </g>
      <g fontSize={25} textAnchor="end">
        {DM_TICKS.map((t) => (
          <text key={t} x={xl - 8} y={y(t)} dy="0.35em">{t.toFixed(1)}</text>
        ))}
      </g>
      <g fontSize={25} textAnchor="middle">
        {Q2_TICKS.map((t) => (
          <text key={t} x={x(t)} y={1063} dy="0.35em">{t.toFixed(2)}</text>
        ))}
      </g>
      <text x={604} y={1110} fontSize={28} textAnchor="middle">
        <tspan fontStyle="italic">Q</tspan>
        <tspan dx={4} dy={-11} fontSize={18}>2</tspan>
        <tspan dy={11}> (GeV</tspan>
        <tspan dy={-11} fontSize={18}>2</tspan>
        <tspan dy={11}>)</tspan>
      </text>
      <text transform="translate(85,848) rotate(-90)" fontSize={29} textAnchor="middle">&lt;Data/Model&gt;</text>
      {/* legend */}
      <g fontSize={27}>
        <circle cx={762} cy={685} r={7} fill="#ff1010" />
        <circle cx={800} cy={685} r={7} fill="#ff1010" />
        <text x={830} y={685} dy="0.35em">SLAC ONEN1HAF</text>
        <rect x={756} y={717} width={12} height={12} fill="#000" />
        <rect x={794} y={717} width={12} height={12} fill="#000" />
        <text x={830} y={723} dy="0.35em">SLAC E61</text>
        <line x1={761} x2={797} y1={762} y2={762} stroke="#333" strokeWidth={2.4} strokeDasharray="12 10" />
        <text x={830} y={762} dy="0.35em">&lt;Dev&gt; = 1.15</text>
      </g>
    </g>
  );
}

function Bullets() {
  const lineYs = [693, 762, 831, 898];
  const widths = [421, 496, 617, 533];
  let k = 0;
  return (
    <g fontFamily={SANS} fontSize={42} fill="#111">
      {BULLETS.map((b, i) => (
        <g key={i}>
          <circle cx={1143} cy={lineYs[i * 2] - 15} r={7} fill="#111" />
          {b.map((s) => {
            const idx = k++;
            return (
              <text key={idx} x={1171} y={lineYs[idx]} textLength={widths[idx]} lengthAdjust="spacingAndGlyphs">{s}</text>
            );
          })}
        </g>
      ))}
    </g>
  );
}

export default function App() {
  return (
    <svg width={1817} height={1117} style={{ position: "absolute", left: 0, top: 0, background: "#fff" }}>
      <rect width={1817} height={1117} fill="#fff" />
      <g fill="none" stroke="#ececec" strokeWidth={1}>
        <rect x={632} y={-2} width={594} height={637} />
        <rect x={1226} y={-2} width={600} height={644} />
      </g>
      <Panel L={LA} data={A_DATA} modelW={A_MODEL_W} christy={A_CHRISTY} f1={A_F1F209} rF={A_RATIO_F1F209} rC={A_RATIO_CHRISTY} yTicks={A_Y_TICKS} dataLabel="SLAC ONEN1HAF" showYTitles />
      <Panel L={LB} data={B_DATA} modelW={B_MODEL_W} christy={B_CHRISTY} f1={B_F1F209} rF={B_RATIO_F1F209} rC={B_RATIO_CHRISTY} yTicks={B_Y_TICKS} dataLabel="SLAC ONEN1HAF" />
      <Panel L={LC} data={C_DATA} modelW={C_MODEL_W} christy={C_CHRISTY} f1={C_F1F209} rF={C_RATIO_F1F209} rC={C_RATIO_CHRISTY} yTicks={C_Y_TICKS} dataLabel="SLAC E61" />
      <Summary />
      <Bullets />
      <rect x={1314} y={1103} width={66} height={20} fill="#2a4494" />
      <rect x={1319} y={1110} width={28} height={10} fill="#fff" />
    </svg>
  );
}
